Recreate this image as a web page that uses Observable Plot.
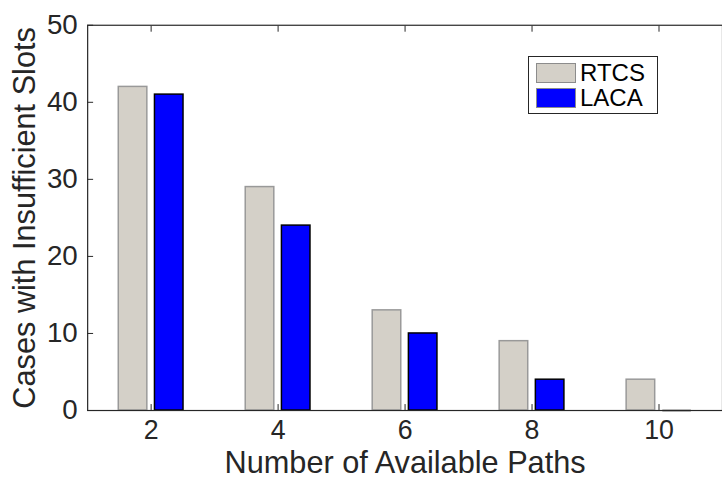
<!DOCTYPE html>
<html>
<head>
<meta charset="utf-8">
<script src="https://cdn.jsdelivr.net/npm/d3@7"></script>
<script src="https://cdn.jsdelivr.net/npm/@observablehq/plot@0.6"></script>
<style>
  html, body { margin: 0; padding: 0; background: #fff; overflow: hidden; }
  #wrap { position: relative; width: 722px; height: 479px; overflow: hidden; }
  #legend { position: absolute; left: 528px; top: 56px; width: 128px; height: 56px;
    border: 1px solid #262626; background: #fff; font-family: "Liberation Sans", Arial, sans-serif; }
  .item { position: absolute; left: 7px; height: 21px; display: flex; align-items: center; }
  .sw { width: 40px; height: 20px; box-sizing: border-box; border: 1px solid #8c8c8c; margin-right: 4px; }
  .lbl { font-size: 24px; color: #000; line-height: 21px; }
</style>
</head>
<body>
<div id="wrap"><div id="chart"></div><div id="legend"></div></div>
<script>
const paths = [2, 4, 6, 8, 10];
const rtcs = [42, 29, 13, 9, 4];
const laca = [41, 24, 10, 4, 0];
const seriesNames = ["RTCS", "LACA"];
const seriesFill = ["#d4d0c8", "#0000ff"];
const seriesStroke = ["#999999", "#000000"];
const yTicks = [0, 10, 20, 30, 40, 50];
const xLabel = "Number of Available Paths";
const yLabel = "Cases with Insufficient Slots";

const offsets = [[-0.51, -0.06], [0.06, 0.51]];
const data = [];
[rtcs, laca].forEach((vals, s) => {
  vals.forEach((v, i) => data.push({ p: paths[i], v, s, x1: paths[i] + offsets[s][0], x2: paths[i] + offsets[s][1] }));
});

const font = '"Liberation Sans", Arial, sans-serif';
const axisColor = "#262626";

const chart = Plot.plot({
  width: 729,
  height: 479,
  marginLeft: 88,
  marginRight: 0,
  marginTop: 25,
  marginBottom: 65,
  style: { fontFamily: font, background: "#fff", overflow: "visible" },
  x: { domain: [1, 11], ticks: paths },
  y: { domain: [0, 50], ticks: yTicks },
  marks: [
    Plot.rect(data, {
      x1: "x1", x2: "x2", y1: 0, y2: "v",
      fill: d => seriesFill[d.s], stroke: d => seriesStroke[d.s], strokeWidth: 1.5
    }),
    Plot.ruleY(data.filter(d => d.v === 0), {
      y: "v", x1: "x1", x2: "x2", stroke: d => seriesStroke[d.s], strokeWidth: 1.5
    }),
    Plot.frame({ stroke: axisColor, strokeWidth: 1.2 }),
    Plot.axisY(yTicks, { anchor: "left", tickSize: 0, tickPadding: 10, fontSize: 28, fill: axisColor, label: null }),
    Plot.axisY(yTicks, { anchor: "left", tickSize: -6, text: null, stroke: axisColor, label: null }),
    Plot.axisX(paths, { anchor: "bottom", tickSize: 0, tickPadding: 10, fontSize: 27, fill: axisColor, label: null }),
    Plot.axisX(paths, { anchor: "bottom", tickSize: -6, text: null, stroke: axisColor, label: null }),
    Plot.axisX(paths, { anchor: "top", tickSize: -6, text: null, stroke: axisColor, label: null }),
    Plot.text([xLabel], { frameAnchor: "bottom", dy: 63, text: d => d, fontSize: 31, fill: axisColor, lineAnchor: "bottom", textAnchor: "middle" }),
    Plot.text([yLabel], { frameAnchor: "left", dx: -63, rotate: -90, text: d => d, fontSize: 31, fill: axisColor, lineAnchor: "middle", textAnchor: "middle" })
  ]
});
document.getElementById("chart").appendChild(chart);

const legend = document.getElementById("legend");
seriesNames.forEach((name, s) => {
  const item = document.createElement("div");
  item.className = "item";
  item.style.top = (5 + s * 25) + "px";
  const sw = document.createElement("div");
  sw.className = "sw";
  sw.style.background = seriesFill[s];
  const lbl = document.createElement("span");
  lbl.className = "lbl";
  lbl.textContent = name;
  item.appendChild(sw);
  item.appendChild(lbl);
  legend.appendChild(item);
});
</script>
</body>
</html>
